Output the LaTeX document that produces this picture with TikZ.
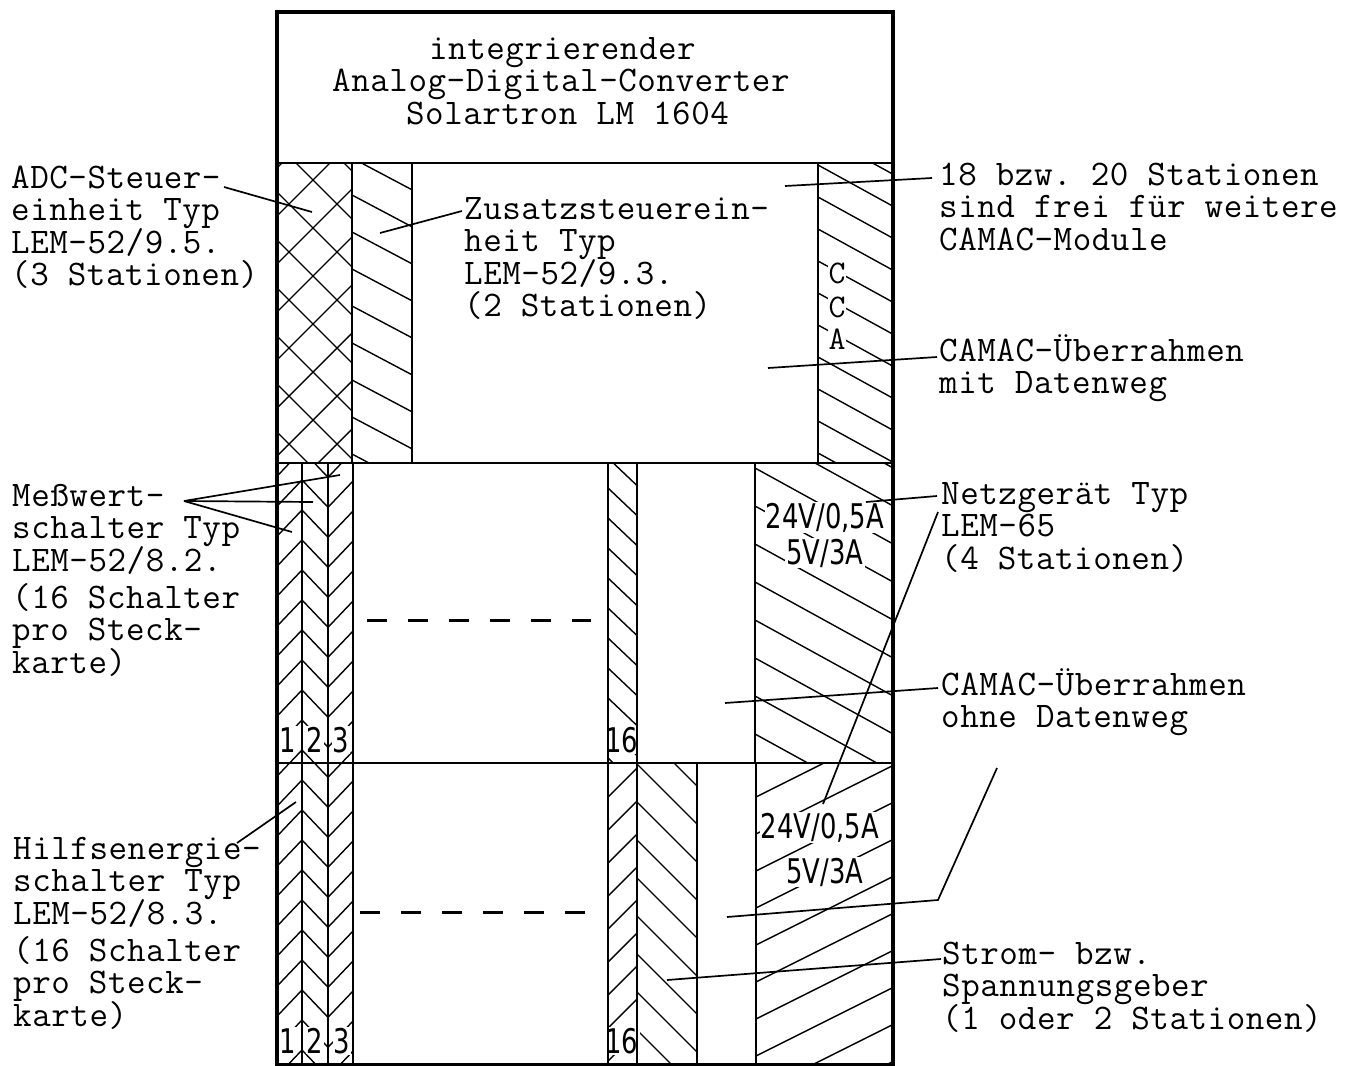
\documentclass[tikz,border=0pt]{standalone}
\usepackage{fontspec}
\setmonofont{Latin Modern Mono}[LetterSpace=1.5]
\newfontfamily\dinfont[FakeStretch=0.76]{DejaVu Sans}
\tikzset{
  frame/.style={line width=3.4pt},
  cellline/.style={line width=2.6pt},
  hatchline/.style={line width=1.4pt},
  leader/.style={line width=1.7pt},
  % anchor=base of a multi-line node is the baseline of its LAST line
  lbl/.style={font={\fontsize{36}{32.5}\selectfont\ttfamily\lineskiplimit=-100pt},
              inner sep=0pt, anchor=base west, align=left},
  num/.style={font={\fontsize{34}{34}\selectfont\dinfont}, inner sep=1.2pt, fill=white, anchor=base},
  ccalbl/.style={font={\fontsize{33}{33}\selectfont\ttfamily}, inner sep=0.5pt, fill=white, anchor=base},
  dashline/.style={line width=3pt, dash pattern=on 20pt off 21pt},
}
% x1 y1 x2 y2 slope spacing phase
\newcommand\hatchcell[7]{%
  \begin{scope}
    \clip (#1,#2) rectangle (#3,#4);
    \pgfmathsetmacro\hw{#3-#1}%
    \pgfmathsetmacro\hs{(#5)*\hw}%
    \pgfmathsetmacro\hlo{#2-max(0,\hs)}%
    \pgfmathsetmacro\hhi{#4-min(0,\hs)}%
    \pgfmathsetmacro\hstart{#7+#6*floor((\hlo-(#7))/#6)}%
    \pgfmathsetmacro\hnext{\hstart+#6}%
    \foreach \hc in {\hstart,\hnext,...,\hhi}
      \draw[hatchline] (#1,\hc) -- (#3,{\hc+(\hs)});
  \end{scope}}
\begin{document}
\begin{tikzpicture}[x=1pt,y=-1pt]
\fill[white] (0,0) rectangle (1358,1066);
\useasboundingbox (0,0) rectangle (1358,1066);

% ---------- hatching, row 1
\hatchcell{277}{163}{352}{463}{1.0}{48}{0}
\hatchcell{277}{163}{352}{463}{-1.0}{48}{24}
\hatchcell{352}{163}{412}{463}{0.53}{37}{10}
\hatchcell{818}{163}{893}{463}{0.55}{32}{5}
% ---------- row 2
\hatchcell{277}{463}{302}{763}{-1.05}{30}{26.25}
\hatchcell{302}{463}{328}{763}{1.05}{30}{0}
\hatchcell{328}{463}{353}{763}{-1.05}{30}{27.3}
\hatchcell{608}{463}{637}{763}{0.95}{30}{8}
\hatchcell{755}{463}{893}{763}{0.55}{38}{12}
% ---------- row 3
\hatchcell{277}{763}{302}{1065}{-1.05}{30}{26.25}
\hatchcell{302}{763}{328}{1065}{1.05}{30}{0}
\hatchcell{328}{763}{353}{1065}{-1.05}{30}{27.3}
\hatchcell{608}{763}{637}{1065}{-1.0}{33}{5}
\hatchcell{637}{763}{697}{1065}{1.0}{38}{4}
\hatchcell{756}{763}{893}{1065}{-0.5}{37}{20}

% ---------- labels inside the frame
\node[ccalbl] (ccaC1) at (837,283) {C};
\node[ccalbl] (ccaC2) at (837,317) {C};
\node[ccalbl] (ccaA)  at (837,349) {A};

\node[num] (r2n1)  at (288,752) {1};
\node[num] (r2n2)  at (315,752) {2};
\node[num] (r2n3)  at (341,752) {3};
\node[num] (r2n16) at (622,752) {16};
\node[num] (r2v24) at (825,528) {24V/0,5A};
\node[num] (r2v5)  at (825,564) {5V/3A};

\node[num] (r3n1)  at (288,1053) {1};
\node[num] (r3n2)  at (315,1053) {2};
\node[num] (r3n3)  at (342,1053) {3};
\node[num] (r3n16) at (622,1053) {16};
\node[num] (r3v24) at (820,838) {24V/0,5A};
\node[num] (r3v5)  at (825,883) {5V/3A};

% ---------- dashed lines
\draw[dashline] (367,620) -- (591,620);
\draw[dashline] (360,912) -- (591,912);

% ---------- borders
\draw[cellline] (277,163) -- (893,163);
\draw[cellline] (277,463) -- (893,463);
\draw[cellline] (277,763) -- (893,763);
\foreach \vx in {352,412,818} \draw[cellline] (\vx,163) -- (\vx,463);
\foreach \vx in {302,328,353,608,637,755} \draw[cellline] (\vx,463) -- (\vx,763);
\foreach \vx in {302,328,353,608,637,697,756} \draw[cellline] (\vx,763) -- (\vx,1065);
\draw[frame] (277,12) rectangle (893,1065);

% ---------- texts (positions = baseline of last line)
\node[lbl] (adctitle) at (332,124)
  {\hspace*{97pt}integrierender\\Analog-Digital-Converter\\\hspace*{74pt}Solartron LM 1604};
\node[lbl] (adcsteuer) at (11,285.5) {ADC-Steuer-\\einheit Typ\\LEM-52/9.5.\\(3 Stationen)};
\node[lbl] (zusatz) at (464,316.5) {Zusatzsteuerein-\\heit Typ\\LEM-52/9.3.\\(2 Stationen)};
\node[lbl] (frei) at (939,250) {18 bzw. 20 Stationen\\sind frei für weitere\\CAMAC-Module};
\node[lbl] (mitdw) at (939,393.5) {CAMAC-Überrahmen\\mit Datenweg};
\node[lbl] (messw) at (12,673) {Meßwert-\\schalter Typ\\LEM-52/8.2.\\[4.5pt](16 Schalter\\pro Steck-\\karte)};
\node[lbl] (netz) at (941,569) {Netzgerät Typ\\LEM-65\\(4 Stationen)};
\node[lbl] (ohnedw) at (941,727.5) {CAMAC-Überrahmen\\ohne Datenweg};
\node[lbl] (hilfs) at (13,1026) {Hilfsenergie-\\schalter Typ\\LEM-52/8.3.\\[4.5pt](16 Schalter\\pro Steck-\\karte)};
\node[lbl] (strom) at (942,1029) {Strom- bzw.\\Spannungsgeber\\(1 oder 2 Stationen)};

% ---------- leader coordinates
\coordinate (ladcA) at (224,187);  \coordinate (ladcB) at (312,212);
\coordinate (lzusA) at (462,211);  \coordinate (lzusB) at (380,233);
\coordinate (lfreiA) at (932,178); \coordinate (lfreiB) at (785,186);
\coordinate (lmitA) at (937,357);  \coordinate (lmitB) at (768,368);
\coordinate (lmessA) at (184,501);
\coordinate (lmess1) at (340,475); \coordinate (lmess2) at (313,502); \coordinate (lmess3) at (292,532);
\coordinate (lnetzA) at (937,496); \coordinate (lnetzB) at (866,502);
\coordinate (lnetzC) at (938,512); \coordinate (lnetzD) at (823,804);
\coordinate (lohneA) at (938,688); \coordinate (lohneB) at (725,703);
\coordinate (lohneC) at (997,768); \coordinate (lohneD) at (938,900); \coordinate (lohneE) at (727,917);
\coordinate (lhilfA) at (237,843); \coordinate (lhilfB) at (296,802);
\coordinate (lstromA) at (941,959); \coordinate (lstromB) at (667,980);

% ---------- leaders
\draw[leader] (ladcA) -- (ladcB);
\draw[leader] (lzusA) -- (lzusB);
\draw[leader] (lfreiA) -- (lfreiB);
\draw[leader] (lmitA) -- (lmitB);
\draw[leader] (lmessA) -- (lmess1);
\draw[leader] (lmessA) -- (lmess2);
\draw[leader] (lmessA) -- (lmess3);
\draw[leader] (lnetzA) -- (lnetzB);
\draw[leader] (lnetzC) -- (lnetzD);
\draw[leader] (lohneA) -- (lohneB);
\draw[leader] (lohneC) -- (lohneD) -- (lohneE);
\draw[leader] (lhilfA) -- (lhilfB);
\draw[leader] (lstromA) -- (lstromB);
\end{tikzpicture}
\end{document}
